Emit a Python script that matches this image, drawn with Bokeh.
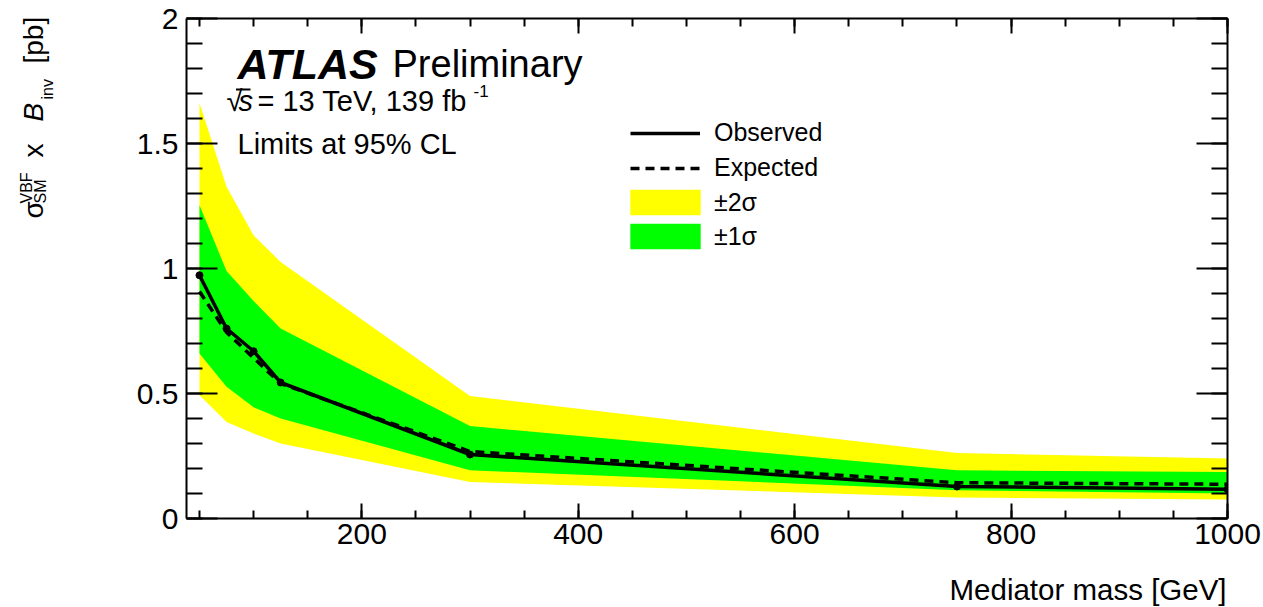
import math

from bokeh.plotting import figure
from bokeh.layouts import row, column
from bokeh.models import (LinearAxis, FixedTicker, NumeralTickFormatter, Label,
                          Legend, LegendItem, Range1d, CustomJSTickFormatter,
                          BoxAnnotation)
from bokeh.embed import file_html
from bokeh.resources import INLINE

# Mediator mass points [GeV]
mass = [50, 75, 100, 125, 300, 750, 1000]
# 95% CL upper limits on sigma x B_inv [pb]
observed = [0.973, 0.760, 0.669, 0.544, 0.256, 0.128, 0.117]
expected = [0.908, 0.745, 0.642, 0.540, 0.268, 0.143, 0.137]
# expected-limit uncertainty bands
band2_hi = [1.662, 1.327, 1.133, 1.026, 0.490, 0.262, 0.240]
band1_hi = [1.253, 0.990, 0.870, 0.760, 0.370, 0.193, 0.186]
band1_lo = [0.660, 0.527, 0.445, 0.400, 0.193, 0.113, 0.100]
band2_lo = [0.493, 0.386, 0.340, 0.300, 0.146, 0.084, 0.076]

x_major = [200, 400, 600, 800, 1000]
x_minor = list(range(50, 1001, 50))
y_major = [0, 0.5, 1, 1.5, 2]
y_minor = [round(0.1 * i, 1) for i in range(21)]

FONT = "Liberation Sans"
W, H = 1263, 607          # whole page
SW = 64                   # width of the strip holding the y-axis title
MH = 570                  # height of the main plot
FL, FR, FT, FB = 186, 1227, 18, 518      # frame edges on the page
X0, X1 = 38, 1000
Y0, Y1 = 0, 2


def dx(px):
    return X0 + (px - FL) * (X1 - X0) / (FR - FL)


def dy(py):
    return Y0 + (FB - py) * (Y1 - Y0) / (FB - FT)


def blank_strip(width, height, xr, yr):
    s = figure(width=width, height=height, output_backend="svg", title=None,
               toolbar_location=None, x_range=Range1d(*xr), y_range=Range1d(*yr),
               x_axis_type=None, y_axis_type=None, min_border=0)
    s.outline_line_color = None
    s.xgrid.visible = False
    s.ygrid.visible = False
    return s


p = figure(width=W - SW, height=MH, output_backend="svg", toolbar_location=None,
           x_range=Range1d(X0, X1), y_range=Range1d(Y0, Y1),
           x_axis_type=None, y_axis_type=None,
           min_border_left=FL - SW, min_border_right=W - FR,
           min_border_top=FT, min_border_bottom=MH - FB)
p.outline_line_color = None
p.background_fill_color = "white"
p.border_fill_color = "white"


def make_axis(major, minor, major_len, minor_len, labelled):
    ax = LinearAxis(ticker=FixedTicker(ticks=major, minor_ticks=minor))
    ax.axis_line_width = 2
    ax.axis_line_color = "black"
    ax.major_tick_in = major_len
    ax.major_tick_out = 0
    ax.minor_tick_in = minor_len
    ax.minor_tick_out = 0
    ax.major_tick_line_width = 2
    ax.minor_tick_line_width = 2
    ax.major_tick_line_color = "black"
    ax.minor_tick_line_color = "black"
    ax.major_label_text_font = FONT
    ax.major_label_text_font_size = "30px"
    ax.major_label_text_color = "black"
    if not labelled:
        ax.formatter = CustomJSTickFormatter(code="return ''")
        ax.major_label_standoff = 0
    return ax


xb = make_axis(x_major, x_minor, 15, 8, True)
xb.major_label_standoff = 5
xt = make_axis(x_major, x_minor, 15, 8, False)
yl = make_axis(y_major, y_minor, 31, 16, True)
yl.major_label_standoff = 8
yl.formatter = NumeralTickFormatter(format="0.[0]")
yr = make_axis(y_major, y_minor, 31, 16, False)
p.add_layout(xb, "below")
p.add_layout(xt, "above")
p.add_layout(yl, "left")
p.add_layout(yr, "right")

# bands, expected and observed limits
r2 = p.varea(x=mass, y1=band2_lo, y2=band2_hi, fill_color="#ffff00")
r1 = p.varea(x=mass, y1=band1_lo, y2=band1_hi, fill_color="#00ff00")
rexp = p.line(mass, expected, line_color="black", line_width=3.5, line_dash="9 6")
robs = p.line(mass, observed, line_color="black", line_width=3.5)
p.scatter(mass, observed, size=7, color="black")

legend_style = dict(padding=0, margin=0, label_text_font=FONT,
                    label_text_font_size="25px", label_text_color="black",
                    border_line_color=None, background_fill_alpha=0)
# line entries
leg_lines = Legend(items=[LegendItem(label="Observed", renderers=[robs]),
                          LegendItem(label="Expected", renderers=[rexp])],
                   location=(630 - FL, FB - 182),
                   glyph_width=70, glyph_height=26, spacing=6, label_standoff=14,
                   **legend_style)
# band entries (area swatches are drawn at 80% of the glyph box)
leg_bands = Legend(items=[LegendItem(label="\u00b12\u03c3", renderers=[r2]),
                          LegendItem(label="\u00b11\u03c3", renderers=[r1])],
                   location=(621 - FL, FB - 252),
                   glyph_width=88, glyph_height=32, spacing=2, label_standoff=5,
                   **legend_style)
p.add_layout(leg_lines)
p.add_layout(leg_bands)


def label(fig, x, y, text, size, style="normal", angle=0):
    fig.add_layout(Label(x=x, y=y, text=text, text_font=FONT,
                         text_font_size=f"{size}px", text_font_style=style,
                         text_color="black", angle=angle, text_align="left",
                         text_baseline="alphabetic"))


def plabel(px, py, text, size, style="normal"):
    label(p, dx(px), dy(py), text, size, style)


# experiment label
plabel(237, 63, "ATLAS", 43, "bold italic")
plabel(392, 63, "Preliminary", 38)
plabel(226, 100, "\u221a", 29)
plabel(238, 100, "s", 29, "italic")
plabel(257, 100, "= 13 TeV, 139 fb", 29)
plabel(473, 90, "-1", 17)
plabel(237, 143, "Limits at 95% CL", 29)
# bar of the square root over the s
p.add_layout(BoxAnnotation(left=dx(235.5), right=dx(250), top=dy(88), bottom=dy(90),
                           fill_color="black", fill_alpha=1, line_color=None))

# x-axis title strip; its frame lines up with the plot frame (page pixels)
xs = blank_strip(W - SW, H - MH, (FL, FR), (H, MH))
label(xs, 949, 589, "Mediator mass [GeV]", 29.5)

# y-axis title strip, text written bottom to top (page pixel coordinates)
ys = blank_strip(SW, H, (0, SW), (H, 0))
up = math.pi / 2
label(ys, 33, 218, "\u03c3", 28, angle=up)
label(ys, 26, 203, "VBF", 16, angle=up)
label(ys, 40, 203, "SM", 16, angle=up)
label(ys, 33, 157, "x", 28, angle=up)
label(ys, 33, 121, "B", 28, "italic", angle=up)
label(ys, 47, 99, "inv", 16, angle=up)
label(ys, 33, 63, "[pb]", 28, angle=up)

page = row(ys, column(p, xs, spacing=0), spacing=0)
open("out.html", "w").write(file_html(page, INLINE))
